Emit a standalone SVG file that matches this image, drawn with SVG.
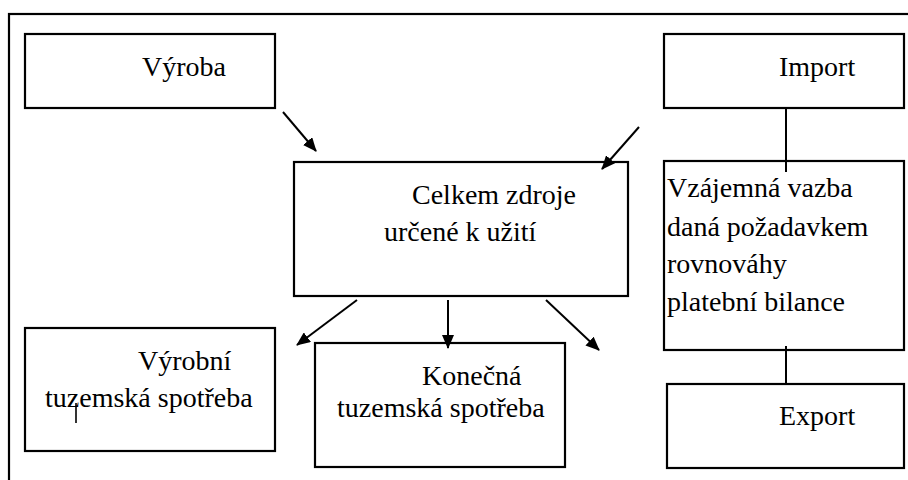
<svg xmlns="http://www.w3.org/2000/svg" width="908" height="480" viewBox="0 0 908 480">
<defs>
<style>
.box{fill:#fff;stroke:#000;stroke-width:2.2}
.t{font-size:28px;fill:#000}
.c{stroke:#000;stroke-width:2;fill:none}
</style>
<marker id="ah" viewBox="0 0 14 12" refX="13" refY="6" markerWidth="14" markerHeight="12" markerUnits="userSpaceOnUse" orient="auto">
<path d="M0,0 L14,6 L0,12 Z" fill="#000"/>
</marker>
</defs>
<rect width="908" height="480" fill="#fff"/>
<rect id="frame" x="9" y="14" width="920" height="490" fill="none" stroke="#000" stroke-width="2.2"/>
<g font-family="'Liberation Serif', 'DejaVu Serif', serif">
<g id="vyroba"><rect class="box" x="25" y="34" width="250" height="74"/><text class="t" x="142" y="76">Výroba</text></g>
<g id="import"><rect class="box" x="664" y="34" width="240" height="74"/><text class="t" x="779" y="76">Import</text></g>
<g id="celkem"><rect class="box" x="294" y="162" width="334" height="134"/><text class="t" x="412" y="204">Celkem zdroje</text><text class="t" x="384" y="241">určené k užití</text></g>
<g id="vazba"><rect class="box" x="664" y="161" width="240" height="189"/><text class="t" x="667" y="197">Vzájemná vazba</text><text class="t" x="667" y="236">daná požadavkem</text><text class="t" x="667" y="273">rovnováhy</text><text class="t" x="667" y="311">platební bilance</text></g>
<g id="vyrobni"><rect class="box" x="25" y="328" width="250" height="123"/><text class="t" x="138" y="370">Výrobní</text><text class="t" x="45" y="407">tuzemská spotřeba</text><line x1="76" y1="403" x2="76" y2="423" stroke="#000" stroke-width="1.6"/></g>
<g id="konecna"><rect class="box" x="315" y="343" width="250" height="124"/><text class="t" x="422" y="385">Konečná</text><text class="t" x="337" y="417">tuzemská spotřeba</text></g>
<g id="export"><rect class="box" x="667" y="384" width="237" height="84"/><text class="t" x="779" y="425">Export</text></g>
</g>
<g id="connectors">
<line class="c" x1="283" y1="112" x2="316" y2="151" marker-end="url(#ah)"/>
<line class="c" x1="639" y1="127" x2="602" y2="169" marker-end="url(#ah)"/>
<line class="c" x1="357" y1="300" x2="297" y2="345" marker-end="url(#ah)"/>
<line class="c" x1="448" y1="300" x2="448" y2="348" marker-end="url(#ah)"/>
<line class="c" x1="546" y1="300" x2="599" y2="350" marker-end="url(#ah)"/>
<line class="c" x1="786" y1="108" x2="786" y2="172"/>
<line class="c" x1="786" y1="346" x2="786" y2="385"/>
</g>
</svg>
